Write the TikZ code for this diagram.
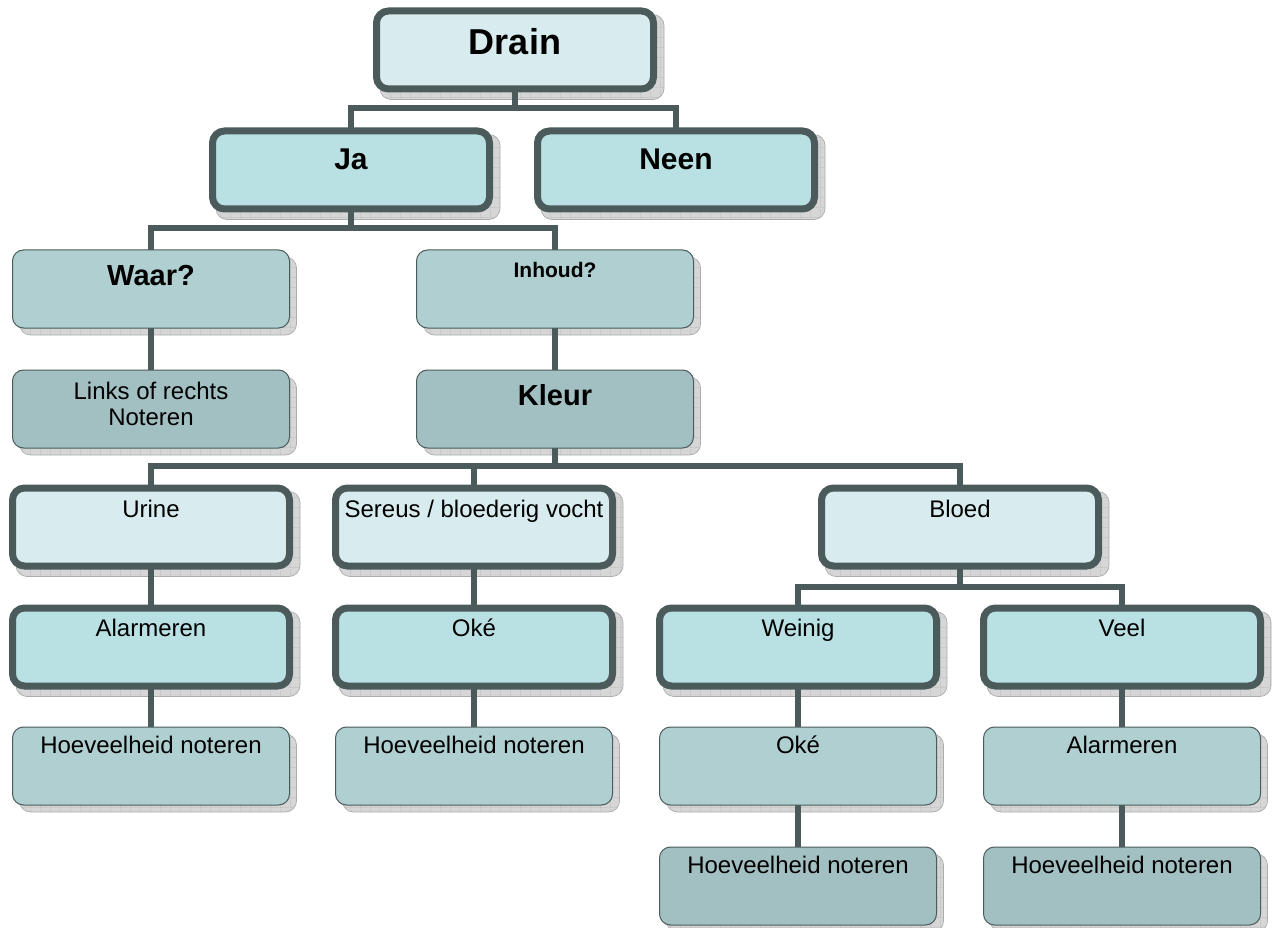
\documentclass[tikz,border=0pt]{standalone}
\usepackage{fontspec}
\setmainfont{Liberation Sans}
\usetikzlibrary{calc,patterns.meta}
\definecolor{bordc}{RGB}{75,91,91}
\definecolor{fillA}{RGB}{216,236,239}
\definecolor{fillB}{RGB}{185,224,227}
\definecolor{fillC}{RGB}{175,207,209}
\definecolor{fillD}{RGB}{162,192,194}
\tikzdeclarepattern{
  name=shadgrid, type=uncolored,
  bounding box={(0pt,0pt) and (10pt,10pt)},
  tile size={(10pt,10pt)},
  code={\draw[line width=0.6pt] (0pt,0pt) -- (10pt,0pt) (0pt,0pt) -- (0pt,10pt);}
}
\pgfdeclarelayer{shadowlayer}
\pgfdeclarelayer{connlayer}
\pgfsetlayers{shadowlayer,connlayer,main}
\tikzset{
  box/.style={rectangle, minimum width=277pt, minimum height=78pt, anchor=north,
    inner sep=0pt, outer sep=0pt, draw=bordc},
  thickbox/.style={box, line width=7pt, rounded corners=12pt},
  thinbox/.style={box, line width=1pt, rounded corners=11pt},
  conn/.style={draw=bordc, line width=6pt},
  shadfill/.style={fill=gray!32, rounded corners=11pt},
  shadpat/.style={pattern=shadgrid, pattern color=gray!60, rounded corners=11pt},
  shadline/.style={draw=gray!65, line width=0.7pt, rounded corners=11pt},
  txt/.style={anchor=base, font=\fontsize{24}{27}\selectfont},
  bigA/.style={anchor=base, font=\fontsize{36}{40}\selectfont\bfseries},
  bigB/.style={anchor=base, font=\fontsize{30}{34}\selectfont\bfseries},
  bigC/.style={anchor=base, font=\fontsize{29}{33}\selectfont\bfseries},
  bigD/.style={anchor=base, font=\fontsize{21}{25}\selectfont\bfseries},
}
\begin{document}
\begin{tikzpicture}[x=1pt,y=-1pt]
\useasboundingbox (0,0) rectangle (1272,928);
% boxes
\node[thickbox, fill=fillA, label={[bigA, yshift=-44pt]north:Drain}] (drain) at (515,11) {};
\node[thickbox, fill=fillB, label={[bigB, yshift=-39pt]north:Ja}] (ja) at (351,131) {};
\node[thickbox, fill=fillB, label={[bigB, yshift=-39pt]north:Neen}] (neen) at (676,131) {};
\node[thinbox, fill=fillC, label={[bigC, yshift=-35pt]north:Waar?}] (waar) at (151,250) {};
\node[thinbox, fill=fillC, label={[bigD, yshift=-27pt]north:Inhoud?}] (inhoud) at (555,250) {};
\node[thinbox, fill=fillD, label={[anchor=north, align=center, font=\fontsize{24}{26}\selectfont, yshift=-9pt]north:Links of rechts\\Noteren}] (links) at (151,370) {};
\node[thinbox, fill=fillD, label={[bigC, yshift=-35pt]north:Kleur}] (kleur) at (555,370) {};
\node[thickbox, fill=fillA, label={[txt, yshift=-29pt]north:Urine}] (urine) at (151,488) {};
\node[thickbox, fill=fillA, label={[txt, yshift=-29pt]north:Sereus / bloederig vocht}] (sereus) at (474,488) {};
\node[thickbox, fill=fillA, label={[txt, yshift=-29pt]north:Bloed}] (bloed) at (960,488) {};
\node[thickbox, fill=fillB, label={[txt, yshift=-28pt]north:Alarmeren}] (alarmA) at (151,608) {};
\node[thickbox, fill=fillB, label={[txt, yshift=-28pt]north:Oké}] (okeA) at (474,608) {};
\node[thickbox, fill=fillB, label={[txt, yshift=-28pt]north:Weinig}] (weinig) at (798,608) {};
\node[thickbox, fill=fillB, label={[txt, yshift=-28pt]north:Veel}] (veel) at (1122,608) {};
\node[thinbox, fill=fillC, label={[txt, yshift=-26pt]north:Hoeveelheid noteren}] (hoevA) at (151,727) {};
\node[thinbox, fill=fillC, label={[txt, yshift=-26pt]north:Hoeveelheid noteren}] (hoevB) at (474,727) {};
\node[thinbox, fill=fillC, label={[txt, yshift=-26pt]north:Oké}] (okeB) at (798,727) {};
\node[thinbox, fill=fillC, label={[txt, yshift=-26pt]north:Alarmeren}] (alarmB) at (1122,727) {};
\node[thinbox, fill=fillD, label={[txt, yshift=-26pt]north:Hoeveelheid noteren}] (hoevC) at (798,847) {};
\node[thinbox, fill=fillD, label={[txt, yshift=-26pt]north:Hoeveelheid noteren}] (hoevD) at (1122,847) {};
% shadows
\begin{pgfonlayer}{shadowlayer}
\foreach \n in {drain,ja,neen,urine,sereus,bloed,alarmA,okeA,weinig,veel}{
  \fill[shadfill] ([shift={(3.5,3.5)}]\n.north west) rectangle ([shift={(10.5,10.5)}]\n.south east);
  \fill[shadpat] ([shift={(3.5,3.5)}]\n.north west) rectangle ([shift={(10.5,10.5)}]\n.south east);
  \draw[shadline] ([shift={(3.5,3.5)}]\n.north west) rectangle ([shift={(10.5,10.5)}]\n.south east);
}
\foreach \n in {waar,inhoud,links,kleur,hoevA,hoevB,okeB,alarmB,hoevC,hoevD}{
  \fill[shadfill] ([shift={(7,7)}]\n.north west) rectangle ([shift={(7,7)}]\n.south east);
  \fill[shadpat] ([shift={(7,7)}]\n.north west) rectangle ([shift={(7,7)}]\n.south east);
  \draw[shadline] ([shift={(7,7)}]\n.north west) rectangle ([shift={(7,7)}]\n.south east);
}
\end{pgfonlayer}
% connectors
\begin{pgfonlayer}{connlayer}
\coordinate (j1) at ($(drain.south)+(0,19)$);
\coordinate (j2) at ($(ja.south)+(0,19)$);
\coordinate (j3) at ($(kleur.south)+(0,18)$);
\coordinate (j4) at ($(bloed.south)+(0,21)$);
\draw[conn] (drain.south) -- (j1);
\draw[conn] (ja.north) |- (j1) -| (neen.north);
\draw[conn] (ja.south) -- (j2);
\draw[conn] (waar.north) |- (j2) -| (inhoud.north);
\draw[conn] (waar.south) -- (links.north);
\draw[conn] (inhoud.south) -- (kleur.north);
\draw[conn] (kleur.south) -- (j3);
\draw[conn] (urine.north) |- (j3) -| (bloed.north);
\draw[conn] (sereus.north) -- (sereus.north |- j3);
\draw[conn] (urine.south) -- (alarmA.north);
\draw[conn] (alarmA.south) -- (hoevA.north);
\draw[conn] (sereus.south) -- (okeA.north);
\draw[conn] (okeA.south) -- (hoevB.north);
\draw[conn] (bloed.south) -- (j4);
\draw[conn] (weinig.north) |- (j4) -| (veel.north);
\draw[conn] (weinig.south) -- (okeB.north);
\draw[conn] (okeB.south) -- (hoevC.north);
\draw[conn] (veel.south) -- (alarmB.north);
\draw[conn] (alarmB.south) -- (hoevD.north);
\end{pgfonlayer}
\end{tikzpicture}
\end{document}
